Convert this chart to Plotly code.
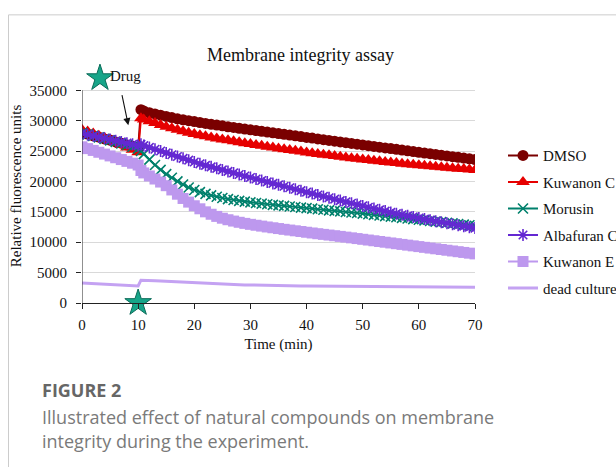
import plotly.graph_objects as go

# ---------------- data ----------------
time_min = [0, 1, 2, 3, 4, 5, 6, 7, 8, 9, 10, 10.5,
            11, 12, 13, 14, 15, 16, 17, 18, 19, 20,
            21, 22, 23, 24, 25, 26, 27, 28, 29, 30,
            31, 32, 33, 34, 35, 36, 37, 38, 39, 40,
            41, 42, 43, 44, 45, 46, 47, 48, 49, 50,
            51, 52, 53, 54, 55, 56, 57, 58, 59, 60,
            61, 62, 63, 64, 65, 66, 67, 68, 69, 70]

dmso = [28000, 27800, 27500, 27300, 27000, 26800, 26500, 26300, 26000, 25800, 25500, 31800,
        31600, 31300, 31100, 30900, 30700, 30500, 30300, 30150, 30000, 29850,
        29700, 29550, 29400, 29280, 29150, 29000, 28880, 28750, 28620, 28500,
        28380, 28250, 28130, 28000, 27880, 27750, 27630, 27500, 27380, 27250,
        27130, 27000, 26880, 26750, 26630, 26500, 26380, 26250, 26130, 26000,
        25880, 25760, 25640, 25520, 25400, 25280, 25160, 25040, 24920, 24800,
        24680, 24560, 24440, 24320, 24200, 24080, 23960, 23840, 23720, 23600]

kuwanon_c = [28500, 28200, 27900, 27500, 27200, 26800, 26400, 26000, 25600, 25200, 24800, 30400,
             30200, 29900, 29600, 29300, 29000, 28750, 28500, 28250, 28000, 27800,
             27600, 27420, 27250, 27080, 26920, 26760, 26600, 26450, 26300, 26150,
             26000, 25860, 25720, 25580, 25440, 25300, 25170, 25040, 24910, 24780,
             24650, 24530, 24410, 24290, 24170, 24050, 23940, 23830, 23720, 23610,
             23510, 23410, 23310, 23210, 23110, 23020, 22930, 22840, 22750, 22660,
             22580, 22500, 22420, 22340, 22260, 22180, 22100, 22030, 21960, 21900]

morusin = [28000, 27750, 27500, 27250, 27000, 26750, 26500, 26250, 26000, 25700, 25400, 25000,
           24500, 23600, 22700, 21900, 21200, 20600, 20000, 19500, 19000, 18600,
           18250, 17950, 17700, 17480, 17280, 17100, 16950, 16800, 16680, 16560,
           16450, 16350, 16250, 16150, 16060, 15970, 15880, 15790, 15700, 15610,
           15520, 15430, 15340, 15250, 15160, 15070, 14980, 14890, 14800, 14700,
           14600, 14500, 14400, 14300, 14200, 14100, 14000, 13900, 13800, 13700,
           13600, 13500, 13400, 13300, 13200, 13100, 13000, 12900, 12800, 12700]

albafuran_c = [27900, 27700, 27500, 27300, 27100, 26900, 26700, 26500, 26300, 26100, 25900, 26100,
               25900, 25600, 25300, 25000, 24700, 24400, 24100, 23800, 23500, 23200,
               22900, 22650, 22400, 22150, 21900, 21650, 21400, 21150, 20900, 20650,
               20400, 20160, 19920, 19680, 19440, 19200, 18960, 18720, 18480, 18240,
               18000, 17770, 17540, 17310, 17080, 16850, 16630, 16410, 16190, 15970,
               15750, 15540, 15330, 15120, 14910, 14700, 14520, 14340, 14160, 13980,
               13800, 13630, 13460, 13290, 13120, 12960, 12800, 12640, 12480, 12330]

kuwanon_e = [25700, 25400, 25100, 24800, 24500, 24200, 23900, 23600, 23300, 23000, 22700, 21800,
             21400, 20900, 20400, 19900, 19300, 18600, 17900, 17200, 16600, 16000,
             15500, 15000, 14600, 14250, 13950, 13700, 13480, 13280, 13100, 12940,
             12790, 12650, 12510, 12380, 12250, 12120, 12000, 11880, 11760, 11640,
             11520, 11400, 11290, 11180, 11070, 10960, 10840, 10720, 10600, 10480,
             10360, 10240, 10120, 10000, 9880, 9760, 9640, 9520, 9400, 9280,
             9160, 9040, 8920, 8800, 8680, 8560, 8440, 8320, 8200, 8080]

dead_culture = [3300, 3250, 3200, 3150, 3100, 3050, 3000, 2950, 2900, 2850, 2800, 3750,
                3750, 3700, 3650, 3600, 3550, 3500, 3450, 3400, 3350, 3300,
                3260, 3220, 3180, 3140, 3100, 3070, 3040, 3010, 2980, 2950,
                2930, 2910, 2890, 2870, 2850, 2830, 2810, 2800, 2790, 2780,
                2770, 2760, 2750, 2740, 2730, 2720, 2710, 2700, 2690, 2680,
                2675, 2670, 2665, 2660, 2655, 2650, 2645, 2640, 2635, 2630,
                2625, 2620, 2615, 2610, 2605, 2600, 2595, 2590, 2585, 2580]

series_names = ["DMSO", "Kuwanon C", "Morusin", "Albafuran C", "Kuwanon E", "dead culture"]
x_ticks = [0, 10, 20, 30, 40, 50, 60, 70]
y_ticks = [0, 5000, 10000, 15000, 20000, 25000, 30000, 35000]
y_axis_max = 35000
y_view_max = 38500   # headroom above the axis for the "Drug" star

drug_star_time = 3.2
drug_star_value = 37000
drug_time = 10
arrow_tail = (7.07, 34450)
arrow_head = (8.25, 29250)

# ---------------- styling ----------------
SERIF = "Liberation Serif, Times New Roman, serif"
SANS = "Open Sans, Noto Sans, sans-serif"

W, H = 616, 467
PL, PR, PB = 82, 475, 303          # plot area in pixels
PY35 = 90                           # pixel row of the 35000 tick
PT = PB - (PB - PY35) * y_view_max / y_axis_max


def px_x(x):
    return (x - PL) / (PR - PL)


def px_y(y):
    return (PB - y) / (PB - PT)


styles = [
    dict(color="#7a0000", symbol="circle", size=11, lw=2),
    dict(color="#e60000", symbol="triangle-up", size=12, lw=2),
    dict(color="#00806c", symbol="x-thin-open", size=10, lw=2),
    dict(color="#6428d2", symbol="asterisk-open", size=10, lw=2),
    dict(color="#bd98ee", symbol="square", size=11, lw=2),
    dict(color="#c4a2f2", symbol=None, size=0, lw=3),
]
values = [dmso, kuwanon_c, morusin, albafuran_c, kuwanon_e, dead_culture]

fig = go.Figure()
for name, vals, st in zip(series_names, values, styles):
    if st["symbol"] is None:
        fig.add_trace(go.Scatter(x=time_min, y=vals, name=name, mode="lines",
                                 line=dict(color=st["color"], width=st["lw"]),
                                 legendgroup=name))
    else:
        fig.add_trace(go.Scatter(
            x=time_min, y=vals, name=name, mode="lines+markers",
            line=dict(color=st["color"], width=st["lw"]),
            marker=dict(symbol=st["symbol"], size=st["size"], color=st["color"],
                        line=dict(color=st["color"], width=1.6 if "open" in st["symbol"] else 0)),
            legendgroup=name))

# drug stars
fig.add_trace(go.Scatter(x=[drug_star_time, drug_time], y=[drug_star_value, 0], mode="markers",
                         marker=dict(symbol="star", size=20, color="#17a589",
                                     line=dict(color="#0b6b58", width=1)),
                         showlegend=False, cliponaxis=False, hoverinfo="skip"))

fig.add_annotation(x=drug_star_time + 1.5, y=drug_star_value + 300, text="Drug", showarrow=False,
                   xanchor="left", yanchor="middle", font=dict(family=SERIF, size=15, color="#111"))
fig.add_annotation(x=arrow_head[0], y=arrow_head[1], ax=arrow_tail[0], ay=arrow_tail[1],
                   axref="x", ayref="y", text="",
                   showarrow=True, arrowhead=2, arrowsize=1.3, arrowwidth=1.1, arrowcolor="#111")

# y axis line only up to the top tick
fig.add_shape(type="line", xref="x", yref="y", x0=0, x1=0, y0=0, y1=y_axis_max,
              line=dict(color="#222", width=1))

# title
fig.add_annotation(x=px_x(300), y=px_y(55), xref="paper", yref="paper", text="Membrane integrity assay",
                   showarrow=False, xanchor="center", yanchor="middle",
                   font=dict(family=SERIF, size=18, color="#111"))

# caption
fig.add_annotation(x=px_x(40), y=px_y(390), xref="paper", yref="paper", text="<b>FIGURE 2</b>",
                   showarrow=False, xanchor="left", yanchor="middle",
                   font=dict(family=SANS, size=18, color="#666"))
fig.add_annotation(x=px_x(40), y=px_y(417), xref="paper", yref="paper",
                   text="Illustrated effect of natural compounds on membrane",
                   showarrow=False, xanchor="left", yanchor="middle",
                   font=dict(family=SANS, size=18, color="#7a7a7a"))
fig.add_annotation(x=px_x(40), y=px_y(441), xref="paper", yref="paper",
                   text="integrity during the experiment.",
                   showarrow=False, xanchor="left", yanchor="middle",
                   font=dict(family=SANS, size=18, color="#7a7a7a"))

# card border
fig.add_shape(type="line", xref="paper", yref="paper", x0=px_x(8.5), x1=px_x(8.5),
              y0=px_y(14.5), y1=px_y(470), line=dict(color="#cccccc", width=1))
fig.add_shape(type="line", xref="paper", yref="paper", x0=px_x(8.5), x1=px_x(640),
              y0=px_y(14.5), y1=px_y(14.5), line=dict(color="#cccccc", width=1))

fig.update_layout(
    width=W, height=H,
    margin=dict(l=PL, r=W - PR, t=PT, b=H - PB, autoexpand=False),
    paper_bgcolor="white", plot_bgcolor="white",
    showlegend=True,
    legend=dict(x=px_x(503), y=px_y(139), xanchor="left", yanchor="top",
                font=dict(family=SERIF, size=15, color="#111"),
                tracegroupgap=4, bgcolor="rgba(0,0,0,0)", itemwidth=30),
    xaxis=dict(range=[0, 70], tickvals=x_ticks, showgrid=False, zeroline=False,
               showline=True, linecolor="#222", linewidth=1, ticks="outside", ticklen=5,
               tickcolor="#222", tickfont=dict(family=SERIF, size=15, color="#111"),
               ticklabelstandoff=3,
               title=dict(text="Time (min)", font=dict(family=SERIF, size=15, color="#111"), standoff=6)),
    yaxis=dict(range=[0, y_view_max], tickvals=y_ticks, tickformat="d", showgrid=True,
               gridcolor="#d9d9d9", gridwidth=1,
               zeroline=False, showline=False, ticks="outside", ticklabelstandoff=6,
               ticklen=5, tickcolor="#222", tickfont=dict(family=SERIF, size=15, color="#111"),
               title=dict(text="Relative fluorescence units", font=dict(family=SERIF, size=15, color="#111"),
                          standoff=4)),
)

fig.write_html("out.html", config={"displayModeBar": False},
               post_script="document.body.style.margin='0';document.body.style.padding='0';")
